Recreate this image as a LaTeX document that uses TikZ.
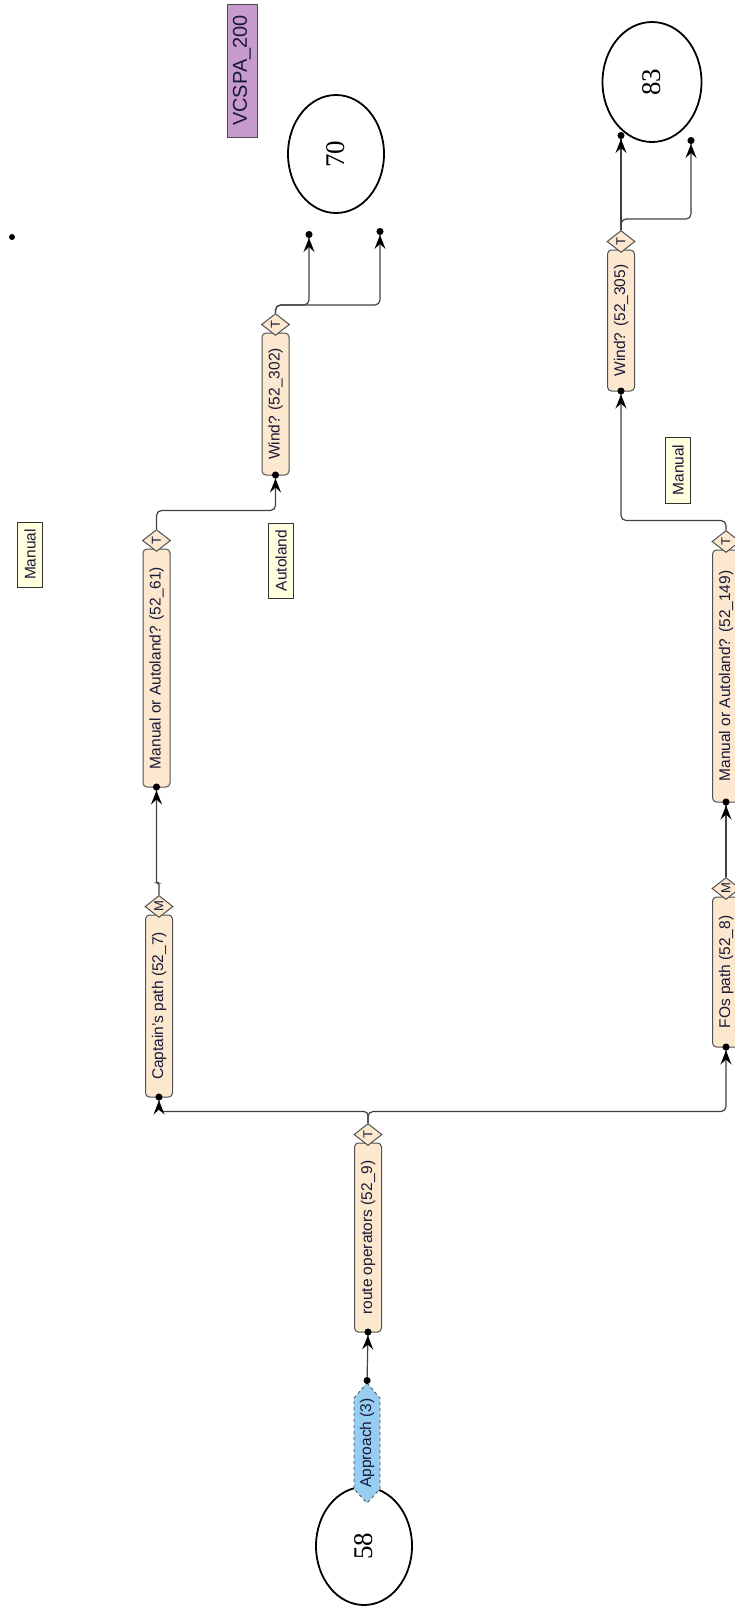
\documentclass[tikz,border=0pt]{standalone}
\usepackage{graphicx}
\usepackage{fontspec}
\setmainfont{Liberation Sans}
\newfontfamily\numfont{Liberation Serif}
\usetikzlibrary{shapes.geometric,arrows.meta,calc}
\definecolor{boxfill}{RGB}{252,232,206}
\definecolor{boxline}{RGB}{80,80,80}
\definecolor{linec}{RGB}{65,65,65}
\definecolor{notefill}{RGB}{255,255,224}
\definecolor{purplefill}{RGB}{200,155,205}
\definecolor{apprfill}{RGB}{150,205,240}
\definecolor{txt}{RGB}{25,25,55}
\begin{document}
\begin{tikzpicture}[x=1pt,y=-1pt,
  flowbox/.style={draw=boxline, fill=boxfill, rounded corners=4pt, line width=1pt, inner sep=0pt, minimum width=27pt, text=txt, font=\fontsize{15.5}{16}\selectfont},
  gatebox/.style={draw=boxline, fill=boxfill, shape=diamond, line width=1pt, inner sep=0pt, minimum width=28pt, minimum height=22pt, text=txt, font=\fontsize{13}{13}\selectfont},
  notebox/.style={draw=black!80, fill=notefill, line width=1pt, inner sep=0pt, minimum width=25pt, text=txt, font=\fontsize{15.5}{16}\selectfont},
  endstate/.style={draw=black, shape=ellipse, line width=1.8pt, minimum width=96pt, minimum height=118pt, inner sep=0pt, font=\numfont\fontsize{27}{27}\selectfont},
  conn/.style={draw=linec, line width=1.2pt, rounded corners=5pt},
  arrowend/.style={-{Stealth[length=14pt,width=11pt,inset=5pt,black]Circle[length=7pt,sep=-4pt,black]}},
  dotarrow/.style={{Circle[length=7pt,black]}-{Stealth[length=14pt,width=11pt,inset=5pt,black]Circle[length=7pt,sep=-4pt,black]}},
]
\useasboundingbox (0,0) rectangle (734,1615);

% end states
\node[endstate] (s58) at (364,1546) {\rotatebox{90}{58}};
\node[endstate] (s70) at (336,154) {\rotatebox{90}{70}};
\node[endstate, minimum width=99pt, minimum height=120pt] (s83) at (652,82) {\rotatebox{90}{83}};

% approach
\draw[dashed, fill=apprfill, draw=black!70, line width=0.8pt] (367,1383) -- (380,1398) -- (380,1489) -- (367,1503) -- (354,1489) -- (354,1398) -- cycle;
\node[inner sep=0pt, text=txt, font=\fontsize{15.5}{16}\selectfont] (appr) at (367,1443) {\rotatebox{90}{Approach (3)}};
\coordinate (apprtop) at (367,1384);

% flow boxes
\node[flowbox, minimum height=189pt] (route) at (368,1237.5) {\rotatebox{90}{route operators (52\_9)}};
\node[flowbox, minimum height=182pt] (cap) at (159,1006) {\rotatebox{90}{Captain's path (52\_7)}};
\node[flowbox, minimum height=238pt] (ma1) at (156.5,668) {\rotatebox{90}{Manual or Autoland? (52\_61)}};
\node[flowbox, minimum height=142pt] (w1) at (275.5,404) {\rotatebox{90}{Wind? (52\_302)}};
\node[flowbox, minimum height=150pt] (fos) at (726,972) {\rotatebox{90}{FOs path (52\_8)}};
\node[flowbox, minimum height=252pt] (ma2) at (726,676) {\rotatebox{90}{Manual or Autoland? (52\_149)}};
\node[flowbox, minimum height=141pt] (w2) at (621,320.5) {\rotatebox{90}{Wind? (52\_305)}};

% gates
\node[gatebox] (routeG) at ($(route.north)+(0,-8)$) {\rotatebox{90}{T}};
\node[gatebox] (capG) at ($(cap.north)+(0,-8)$) {\rotatebox{90}{M}};
\node[gatebox] (ma1G) at ($(ma1.north)+(0,-8)$) {\rotatebox{90}{T}};
\node[gatebox] (w1G) at ($(w1.north)+(0,-8)$) {\rotatebox{90}{T}};
\node[gatebox] (fosG) at ($(fos.north)+(0,-8)$) {\rotatebox{90}{M}};
\node[gatebox] (ma2G) at ($(ma2.north)+(0,-8)$) {\rotatebox{90}{T}};
\node[gatebox] (w2G) at ($(w2.north)+(0,-8)$) {\rotatebox{90}{T}};

% notes
\node[notebox, minimum height=65pt] (man1) at (30,554.5) {\rotatebox{90}{Manual}};
\node[notebox, minimum height=75pt] (auto) at (281,560.5) {\rotatebox{90}{Autoland}};
\node[notebox, minimum height=66pt] (man2) at (678,470) {\rotatebox{90}{Manual}};
\node[draw=black!70, line width=1pt, fill=purplefill, minimum width=30pt, minimum height=133pt, inner sep=0pt, text=txt, font=\fontsize{20}{20}\selectfont] (vcspa) at (242,70.5) {\rotatebox{90}{VCSPA\_200}};
\node[circle, fill=black, inner sep=0pt, minimum size=6pt] (dot) at (12,237) {};

% free ends
\coordinate (e1) at (309,235);
\coordinate (e2) at (380,232);
\coordinate (e3) at (621,136);
\coordinate (e4) at (691,141);

% connectors
\draw[conn, dotarrow] (apprtop) -- (route.south);
\draw[conn, rounded corners=4pt, arrowend] (routeG.north) |- ($(cap.south)+(0,14)$) -- (cap.south);
\draw[conn, arrowend] (routeG.north) |- ($(fos.south)+(0,64)$) -- (fos.south);
\draw[conn, rounded corners=2pt, arrowend] (capG.north) -- ++(0,-12) -| (ma1.south);
\draw[conn, arrowend] (ma1G.north) |- ($(w1.south)+(0,35)$) -- (w1.south);
\draw[conn, arrowend] (w1G.north) |- ($(e1)+(0,70)$) -- (e1);
\draw[conn, arrowend] (w1G.north) |- ($(e2)+(0,73)$) -- (e2);
\draw[conn, arrowend] (fosG.north) -- (ma2.south);
\draw[conn, arrowend] (ma2G.north) |- ($(w2.south)+(0,129)$) -- (w2.south);
\draw[conn, arrowend] (w2G.north) -- (e3);
\draw[conn, arrowend] (w2G.north) |- ($(e4)+(0,78)$) -- (e4);
\end{tikzpicture}
\end{document}
